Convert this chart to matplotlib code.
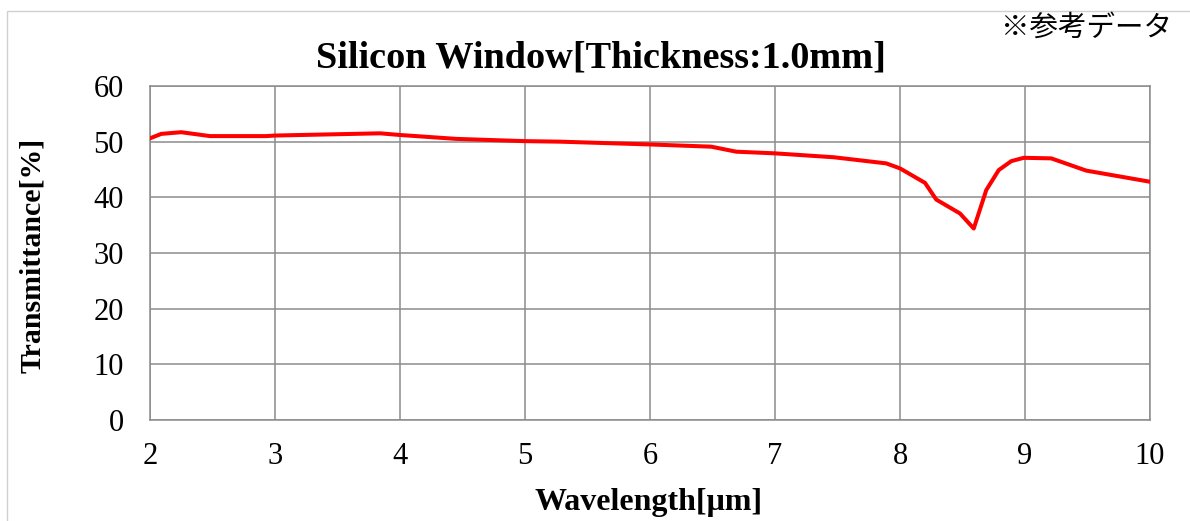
import matplotlib.pyplot as plt
import matplotlib.ticker as ticker
from matplotlib.patches import Rectangle

# transmittance curve
wavelength = [2.0, 2.09, 2.25, 2.48, 2.93, 3.0, 3.84, 4.0, 4.45, 4.99, 5.28, 6.0,
              6.49, 6.69, 7.0, 7.47, 7.89, 8.0, 8.2, 8.29, 8.48, 8.59, 8.69,
              8.79, 8.89, 8.99, 9.21, 9.49, 10.0]
transmittance = [50.6, 51.4, 51.7, 51.0, 51.0, 51.1, 51.5, 51.2, 50.5, 50.1, 50.0, 49.5,
                 49.1, 48.2, 47.9, 47.2, 46.1, 45.2, 42.6, 39.6, 37.1, 34.4, 41.3,
                 44.9, 46.5, 47.1, 47.0, 44.8, 42.8]

x_ticks = [2, 3, 4, 5, 6, 7, 8, 9, 10]
y_ticks = [0, 10, 20, 30, 40, 50, 60]

serif = ["Liberation Serif", "DejaVu Serif"]
W, H = 1190, 521

fig = plt.figure(figsize=(W / 100, H / 100), dpi=100)
ax = fig.add_axes([150 / W, 1 - 420 / H, 1000 / W, 334 / H])

ax.plot(wavelength, transmittance, color="#ff0000", linewidth=2.9, zorder=3)

ax.set_xlim(2, 10)
ax.set_ylim(0, 60)
ax.xaxis.set_major_locator(ticker.FixedLocator(x_ticks))
ax.yaxis.set_major_locator(ticker.FixedLocator(y_ticks))
ax.grid(which="major", color="#8c8c8c", linewidth=1.1)
for spine in ax.spines.values():
    spine.set_color("#8c8c8c")
    spine.set_linewidth(1.1)
ax.tick_params(axis="both", length=0, labelsize=22)
ax.tick_params(axis="x", pad=16)
ax.tick_params(axis="y", pad=19)
for lab in ax.get_xticklabels() + ax.get_yticklabels():
    lab.set_fontfamily(serif)

# title and axis titles placed in figure pixels like the reference
fig.text(601 / W, 1 - 67 / H, "Silicon Window[Thickness:1.0mm]", fontsize=27.5,
         fontweight="bold", family=serif, ha="center", va="baseline")
fig.text(649 / W, 1 - 510 / H, "Wavelength[\u03bcm]", fontsize=23,
         fontweight="bold", family=serif, ha="center", va="baseline")
fig.text(33 / W, 1 - 255 / H, "Transmittance[%]", fontsize=21.5, rotation=90,
         fontweight="bold", family=serif, ha="center", va="center")

fig.text(1172 / W, 1 - 28 / H, "\u203b参考データ", fontsize=20.5, ha="right", va="center",
         family=["Noto Sans CJK JP", "DejaVu Sans"])

fig.patches.append(Rectangle((7 / W, -0.1), 1.2, 1.1 - 11 / H,
                             transform=fig.transFigure, fill=False,
                             edgecolor="#d0d0d0", linewidth=1))

fig.savefig("out.png", dpi=100, facecolor="white")
plt.close(fig)
